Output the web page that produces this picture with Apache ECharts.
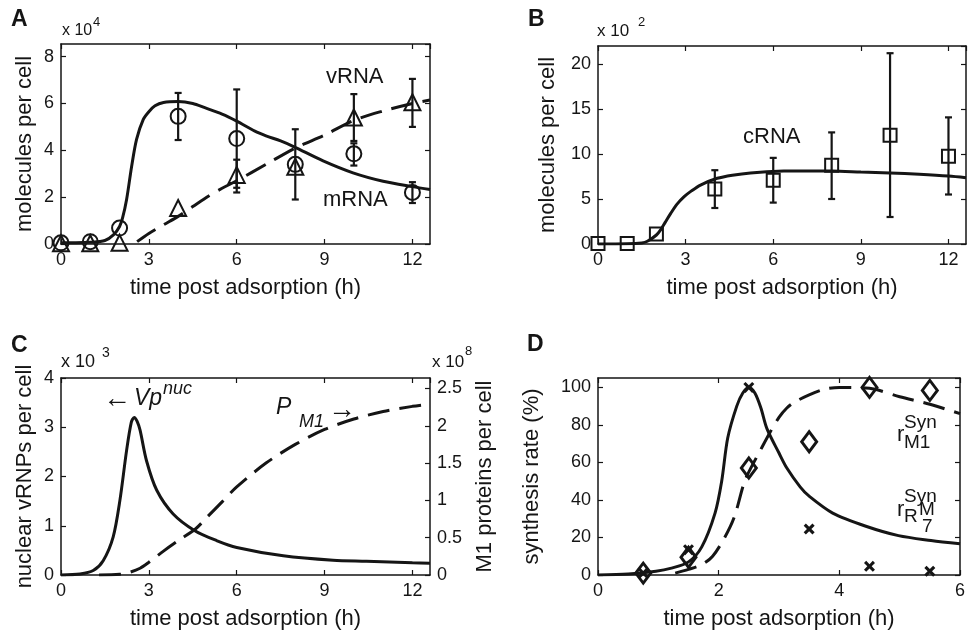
<!DOCTYPE html>
<html><head><meta charset="utf-8">
<script src="https://cdn.jsdelivr.net/npm/echarts@6/dist/echarts.min.js"></script>
<style>html,body{margin:0;padding:0;background:#fff}#c{width:968px;height:635px}</style>
</head><body><div id="c"></div>
<script>
// ---------- Panel A ----------
const tA = [0, 1, 2, 4, 6, 8, 10, 12];
const mRNAobs = [0.05, 0.1, 0.68, 5.45, 4.5, 3.4, 3.85, 2.2];
const mRNAlo  = [null, null, null, 4.44, 2.4, 1.9, 3.35, 1.75];
const mRNAhi  = [null, null, null, 6.45, 6.6, 4.9, 4.3, 2.64];
const vRNAobs = [0.03, 0.03, 0.05, 1.54, 2.95, 3.3, 5.4, 6.05];
const vRNAlo  = [null, null, null, null, 2.2, null, 4.4, 5.0];
const vRNAhi  = [null, null, null, null, 3.6, null, 6.4, 7.05];
const mRNAfitT = [0, 0.5, 1, 1.5, 1.8, 2.0, 2.1, 2.24, 2.41, 2.58, 2.81, 3.0, 3.21, 3.5, 4.0, 4.5, 4.91, 5.5, 6.0, 6.62, 7.0, 7.5, 7.96, 8.95, 9.97, 11.0, 12.0, 12.6];
const mRNAfitV = [0.05, 0.05, 0.07, 0.15, 0.4, 0.75, 1.1, 1.9, 3.3, 4.47, 5.32, 5.65, 5.9, 6.04, 6.08, 6.0, 5.82, 5.55, 5.25, 4.82, 4.62, 4.4, 4.15, 3.55, 3.04, 2.68, 2.45, 2.33];
const vRNAfitT = [2.6, 3.0, 3.5, 4.0, 4.5, 5.03, 5.5, 6.0, 7.0, 8.0, 9.0, 10.0, 11.0, 12.0, 12.6];
const vRNAfitV = [0.1, 0.45, 0.82, 1.18, 1.6, 2.04, 2.38, 2.7, 3.4, 4.1, 4.65, 5.28, 5.68, 6.0, 6.15];

// ---------- Panel B ----------
const tB = [0, 1, 2, 4, 6, 8, 10, 12];
const cRNAobs = [0.05, 0.05, 1.1, 6.1, 7.07, 8.76, 12.08, 9.76];
const cRNAlo  = [null, null, null, 4.0, 4.6, 5.0, 3.0, 5.5];
const cRNAhi  = [null, null, null, 8.2, 9.57, 12.4, 21.2, 14.07];
const cRNAfitT = [0, 1, 1.5, 1.69, 2.0, 2.15, 2.3, 2.49, 2.7, 2.95, 3.2, 3.51, 4.08, 4.6, 5.22, 6.36, 7.0, 8.0, 9.0, 10.0, 11.0, 12.0, 12.6];
const cRNAfitV = [0, 0.02, 0.12, 0.3, 1.0, 1.6, 2.4, 3.4, 4.4, 5.26, 5.9, 6.55, 7.3, 7.65, 7.9, 8.1, 8.12, 8.1, 8.0, 7.9, 7.75, 7.55, 7.36];

// ---------- Panel C ----------
const VpT = [0, 0.65, 1.1, 1.44, 1.78, 2.01, 2.24, 2.4, 2.5, 2.6, 2.7, 2.92, 3.27, 3.83, 4.57, 5.31, 6.0, 7.59, 9.29, 10.43, 12.0, 12.6];
const VpV = [0, 0.02, 0.09, 0.29, 0.77, 1.51, 2.53, 3.1, 3.2, 3.12, 2.94, 2.32, 1.72, 1.24, 0.9, 0.7, 0.56, 0.39, 0.3, 0.28, 0.25, 0.24];
const PM1T = [1.3, 2.0, 2.3, 2.7, 3.0, 3.5, 4.0, 4.6, 5.0, 5.5, 6.0, 7.0, 8.0, 9.0, 10.0, 11.0, 12.0, 12.6];
const PM1V = [0, 0.01, 0.03, 0.09, 0.17, 0.32, 0.46, 0.62, 0.78, 0.98, 1.18, 1.5, 1.75, 1.95, 2.09, 2.19, 2.26, 2.29];

// ---------- Panel D ----------
const tD = [0.75, 1.5, 2.5, 3.5, 4.5, 5.5];
const rM7obs = [1, 13.5, 100, 24.5, 4.6, 2];
const rM1obs = [1, 9.5, 57, 71, 100, 98.4];
const rM7fitT = [0, 0.5, 0.96, 1.2, 1.5, 1.72, 1.94, 2.05, 2.15, 2.3, 2.4, 2.5, 2.6, 2.7, 2.8, 3.0, 3.13, 3.35, 3.5, 3.89, 4.44, 4.98, 5.52, 6.0];
const rM7fitV = [0, 0.5, 2, 3.5, 7, 15, 33, 50, 73, 90, 97, 100, 97, 89, 78, 65, 57, 47, 42, 33, 26, 21, 18.4, 16.6];
const rM1fitT = [1.28, 1.5, 1.72, 1.9, 2.1, 2.26, 2.43, 2.55, 2.7, 2.85, 3.0, 3.13, 3.25, 3.5, 3.75, 4.0, 4.5, 5.0, 5.5, 6.0];
const rM1fitV = [1, 3, 5.5, 10, 20, 31, 50, 58, 67, 76, 84, 89, 92, 96, 99, 100, 99.5, 95, 91, 86];

// ---------- Tick settings ----------
const xTicksTime = { min: 0, max: 12.6, interval: 3 };
const xTicksD = { min: 0, max: 6, interval: 2 };
const yTicksA = { min: 0, max: 8.54, interval: 2 };
const yTicksB = { min: 0, max: 22, interval: 5 };
const yTicksC = { min: 0, max: 4, interval: 1 };
const yTicksCR = { min: 0, max: 2.64, interval: 0.5 };
const yTicksD = { min: 0, max: 105, interval: 20 };

const FONT = '"Liberation Sans", Arial, Helvetica, sans-serif';
const INK = '#151515';
const pairs = (xs, ys) => xs.map((x, i) => [x, ys[i]]);

const grids = [
  { left: 61, top: 44, width: 369, height: 200 },
  { left: 598, top: 46, width: 368, height: 198 },
  { left: 61, top: 378, width: 369, height: 197 },
  { left: 598, top: 378, width: 368, height: 197 }
];

function xAx(g, t, pos, name) {
  const lab = pos === 'bottom';
  return Object.assign({
    gridIndex: g, type: 'value', position: pos,
    axisLine: { show: true, onZero: false, lineStyle: { color: INK, width: 1.5 } },
    axisTick: { show: true, inside: true, length: 5, lineStyle: { color: INK, width: 1.2 } },
    axisLabel: { show: lab, color: INK, fontSize: 18, fontFamily: FONT, margin: 7, showMaxLabel: t.max % t.interval === 0 },
    splitLine: { show: false },
    name: lab ? name : '', nameLocation: 'middle', nameGap: 33,
    nameTextStyle: { fontSize: 22, color: INK, fontFamily: FONT }
  }, t);
}
function yAx(g, t, pos, lab, name, gap) {
  return Object.assign({
    gridIndex: g, type: 'value', position: pos,
    axisLine: { show: true, onZero: false, lineStyle: { color: INK, width: 1.5 } },
    axisTick: { show: true, inside: true, length: 5, lineStyle: { color: INK, width: 1.2 } },
    axisLabel: { show: lab, color: INK, fontSize: 18, fontFamily: FONT, margin: 7, showMaxLabel: t.max % t.interval === 0 },
    splitLine: { show: false },
    name: lab ? name : '', nameLocation: 'middle', nameGap: gap || 0,
    nameTextStyle: { fontSize: 22, color: INK, fontFamily: FONT }
  }, t);
}

const xAxis = [
  xAx(0, xTicksTime, 'bottom', 'time post adsorption (h)'), xAx(0, xTicksTime, 'top'),
  xAx(1, xTicksTime, 'bottom', 'time post adsorption (h)'), xAx(1, xTicksTime, 'top'),
  xAx(2, xTicksTime, 'bottom', 'time post adsorption (h)'), xAx(2, xTicksTime, 'top'),
  xAx(3, xTicksD, 'bottom', 'time post adsorption (h)'), xAx(3, xTicksD, 'top')
];
const yAxis = [
  yAx(0, yTicksA, 'left', true, 'molecules per cell', 25), yAx(0, yTicksA, 'right', false),
  yAx(1, yTicksB, 'left', true, 'molecules per cell', 39), yAx(1, yTicksB, 'right', false),
  yAx(2, yTicksC, 'left', true, 'nuclear vRNPs per cell', 25), yAx(2, yTicksCR, 'right', true, 'M1 proteins per cell', 44),
  yAx(3, yTicksD, 'left', true, 'synthesis rate (%)', 55), yAx(3, yTicksD, 'right', false)
];

function fitLine(xi, yi, xs, ys, dashed) {
  return {
    type: 'line', xAxisIndex: xi, yAxisIndex: yi, data: pairs(xs, ys),
    showSymbol: false, smooth: 0.3, clip: true, z: 2,
    lineStyle: { color: INK, width: 3, type: dashed ? [22, 10] : 'solid', cap: 'butt', opacity: 1 }
  };
}
function markers(xi, yi, xs, ys, symbol, size, filled, bw) {
  return {
    type: 'scatter', xAxisIndex: xi, yAxisIndex: yi, data: pairs(xs, ys),
    symbol: symbol, symbolSize: size, z: 4, clip: false,
    itemStyle: filled ? { color: INK, opacity: 1 } : { color: 'rgba(0,0,0,0)', borderColor: INK, borderWidth: bw || 2, opacity: 1 }
  };
}
function errBars(xi, yi, xs, lo, hi) {
  const data = [];
  xs.forEach((x, i) => { if (lo[i] != null) data.push([x, lo[i], hi[i]]); });
  return {
    type: 'custom', xAxisIndex: xi, yAxisIndex: yi, data: data, z: 5,
    encode: { x: 0, y: [1, 2] },
    renderItem: function (params, api) {
      const x = api.value(0);
      const p1 = api.coord([x, api.value(1)]);
      const p2 = api.coord([x, api.value(2)]);
      const cw = 3.5, st = { stroke: INK, lineWidth: 2.2 };
      return {
        type: 'group', children: [
          { type: 'line', shape: { x1: p1[0], y1: p1[1], x2: p2[0], y2: p2[1] }, style: st },
          { type: 'line', shape: { x1: p1[0] - cw, y1: p1[1], x2: p1[0] + cw, y2: p1[1] }, style: st },
          { type: 'line', shape: { x1: p2[0] - cw, y1: p2[1], x2: p2[0] + cw, y2: p2[1] }, style: st }
        ]
      };
    }
  };
}
const XSYM = 'path://M0,2L2,0L5,3L8,0L10,2L7,5L10,8L8,10L5,7L2,10L0,8L3,5Z';

const series = [
  fitLine(0, 0, mRNAfitT, mRNAfitV, false),
  fitLine(0, 0, vRNAfitT, vRNAfitV, true),
  markers(0, 0, tA, mRNAobs, 'circle', 15, false),
  markers(0, 0, tA, vRNAobs, 'triangle', 16, false),
  errBars(0, 0, tA, mRNAlo, mRNAhi),
  errBars(0, 0, tA, vRNAlo, vRNAhi),

  fitLine(2, 2, cRNAfitT, cRNAfitV, false),
  markers(2, 2, tB, cRNAobs, 'rect', 13, false),
  errBars(2, 2, tB, cRNAlo, cRNAhi),

  fitLine(4, 4, VpT, VpV, false),
  fitLine(4, 5, PM1T, PM1V, true),

  fitLine(6, 6, rM7fitT, rM7fitV, false),
  fitLine(6, 6, rM1fitT, rM1fitV, true),
  markers(6, 6, tD, rM1obs, 'diamond', [15, 20], false, 3),
  markers(6, 6, tD, rM7obs, XSYM, 11, true)
];

function txt(x, y, s, size, opts) {
  opts = opts || {};
  return {
    type: 'text', x: x, y: y, z: 10,
    style: {
      text: s, fill: INK, align: opts.align || 'left', verticalAlign: 'middle',
      font: (opts.italic ? 'italic ' : '') + (opts.bold ? 'bold ' : '') + size + 'px ' + FONT
    }
  };
}
const graphic = [
  txt(11, 20, 'A', 23, { bold: true }), txt(528, 20, 'B', 23, { bold: true }),
  txt(11, 346, 'C', 23, { bold: true }), txt(527, 345, 'D', 23, { bold: true }),
  txt(62, 31, 'x 10', 16), txt(93, 22, '4', 13),
  txt(597, 31, 'x 10', 17), txt(638, 22, '2', 13),
  txt(61, 362, 'x 10', 18), txt(102, 353, '3', 14),
  txt(432, 362, 'x 10', 17), txt(465, 351, '8', 13),
  txt(326, 77, 'vRNA', 22), txt(323, 200, 'mRNA', 22),
  txt(743, 137, 'cRNA', 22),
  txt(103, 399, '\u2190', 28), txt(134, 399, 'Vp', 23, { italic: true }), txt(163, 389, 'nuc', 18, { italic: true }),
  txt(276, 408, 'P', 23, { italic: true }), txt(299, 422, 'M1', 18, { italic: true }), txt(328, 410, '\u2192', 28),
  txt(897, 435, 'r', 22), txt(904, 423, 'Syn', 19), txt(904, 443, 'M1', 19),
  txt(897, 510, 'r', 22), txt(904, 497, 'Syn', 19), txt(904, 517, 'R', 19), txt(919, 510, 'M', 19), txt(922, 527, '7', 19)
];

const chart = echarts.init(document.getElementById('c'), null, { renderer: 'canvas' });
chart.setOption({
  animation: false, backgroundColor: '#fff',
  textStyle: { fontFamily: FONT },
  grid: grids, xAxis: xAxis, yAxis: yAxis, series: series, graphic: graphic
});
</script></body></html>
